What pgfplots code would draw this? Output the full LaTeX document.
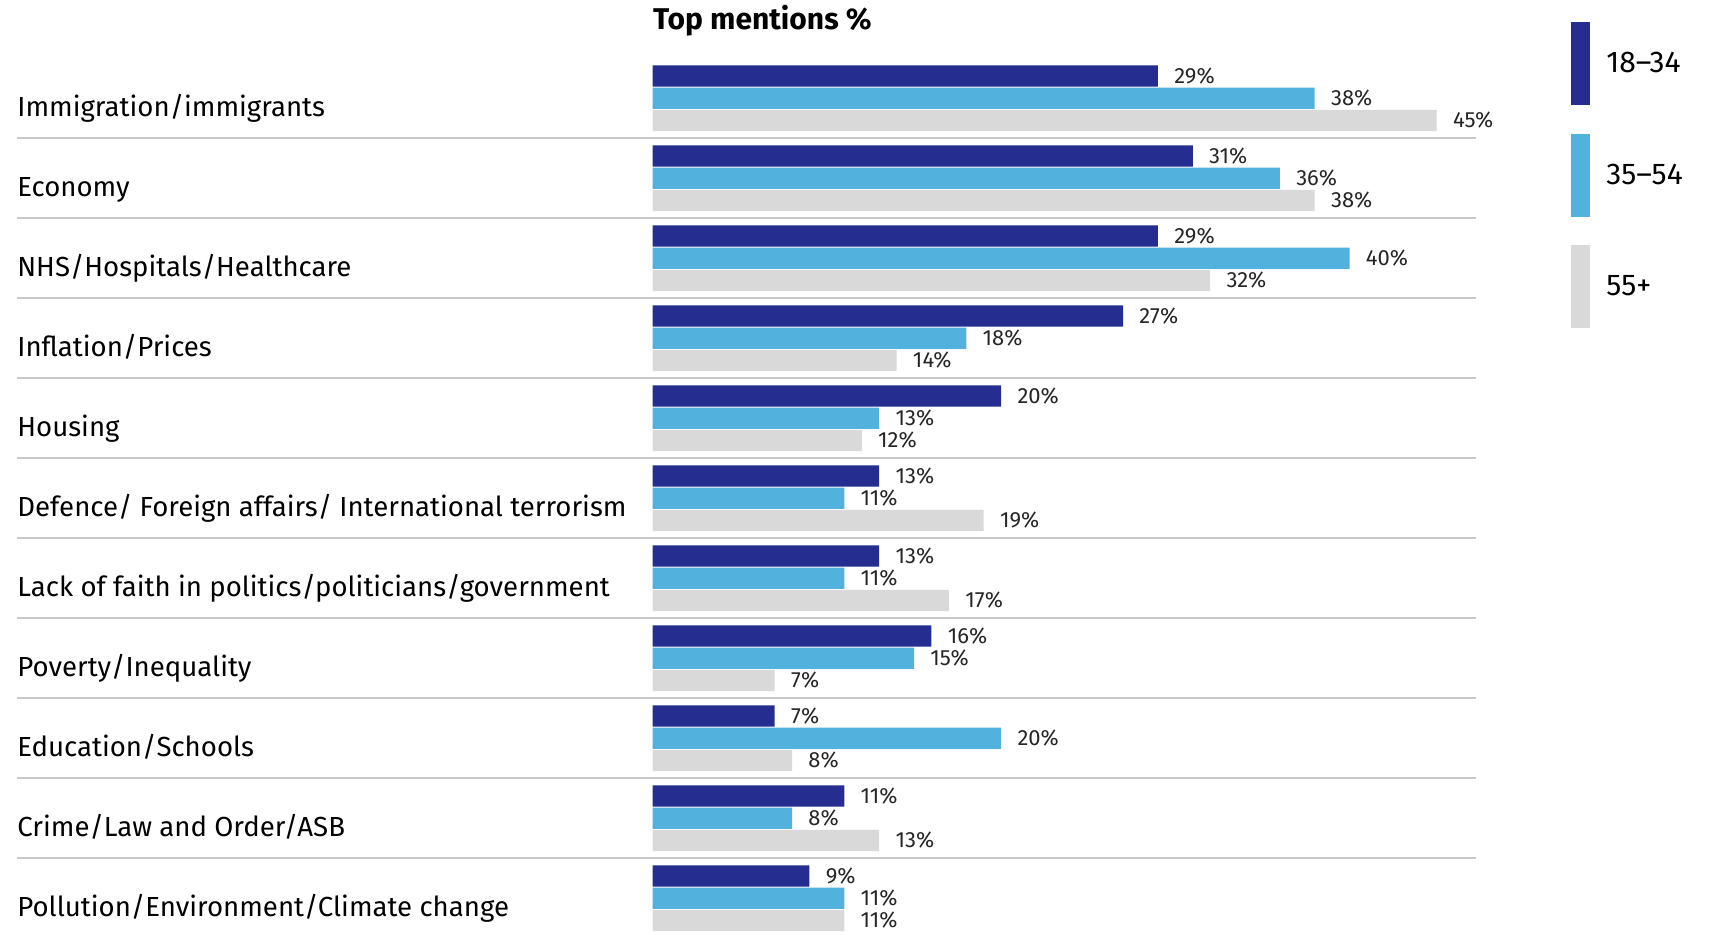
\documentclass[border=0pt]{standalone}
\usepackage{fontspec}
\setmainfont{Fira Sans}
\usepackage{pgfplots}
\pgfplotsset{compat=1.18}

\definecolor{ageA}{HTML}{252D91}
\definecolor{ageB}{HTML}{53B1DD}
\definecolor{ageC}{HTML}{D9D9D9}
\definecolor{rulegrey}{HTML}{C8C8C8}

\begin{document}
\begin{tikzpicture}
\begin{axis}[
  at={(0,0)}, anchor=south west,
  scale only axis, width=729.5pt, height=437.6pt,
  xbar, bar width=10.65pt,
  xmin=-36.49, xmax=47.26,
  ymin=0.5, ymax=11.44, y dir=reverse,
  axis line style={draw=none},
  xtick=\empty,
  ytick={1,...,11},
  yticklabels={Immigration/immigrants, Economy, NHS/Hospitals/Healthcare,
    Inflation/Prices, Housing, Defence/ Foreign affairs/ International terrorism,
    Lack of faith in politics/politicians/government, Poverty/Inequality,
    Education/Schools, Crime/Law and Order/ASB, Pollution/Environment/Climate change},
  major tick length=0pt,
  yticklabel style={anchor=base west, inner sep=0pt, yshift=-9.0pt,
    font=\fontsize{13.8}{16}\selectfont},
  extra y ticks={1.5,2.5,...,10.5},
  extra y tick labels={},
  extra y tick style={grid=major, major grid style={draw=rulegrey, line width=1.2pt}},
  point meta=x,
  nodes near coords={\pgfmathprintnumber{\pgfplotspointmeta}\%},
  nodes near coords style={anchor=west, inner sep=0pt, xshift=8pt,
    font=\fontsize{11}{13}\selectfont, text=black!85},
  /pgf/number format/assume math mode=true,
  clip=false,
  legend cell align=left,
  legend style={at={(1.0651,1.0413)}, anchor=north west, draw=none, fill=none,
    inner sep=0pt, row sep=14.25pt, column sep=8pt,
    nodes={inner sep=0pt}, font=\fontsize{15}{18}\selectfont},
  legend image code/.code={\fill[#1,draw=none] (0pt,-20.75pt) rectangle (9.5pt,20.75pt);},
]
% 18-34
\addplot[fill=ageA, draw=none, bar shift=11.15pt] coordinates {
  (29,1) (31,2) (29,3) (27,4) (20,5) (13,6) (13,7) (16,8) (7,9) (11,10) (9,11)};
% 35-54
\addplot[fill=ageB, draw=none, bar shift=0pt] coordinates {
  (38,1) (36,2) (40,3) (18,4) (13,5) (11,6) (11,7) (15,8) (20,9) (8,10) (11,11)};
% 55+
\addplot[fill=ageC, draw=none, bar shift=-11.15pt] coordinates {
  (45,1) (38,2) (32,3) (14,4) (12,5) (19,6) (17,7) (7,8) (8,9) (13,10) (11,11)};
\legend{18--34, 35--54, 55+}
\node[anchor=base west, inner sep=0pt, yshift=14.45pt,
  font=\bfseries\fontsize{15}{17}\selectfont] at (axis cs:0,0.5) {Top mentions \%};
\end{axis}
\pgfresetboundingbox
\path[use as bounding box] (-8.5pt,-0.3pt) rectangle (846pt,466.7pt);
\end{tikzpicture}
\end{document}
